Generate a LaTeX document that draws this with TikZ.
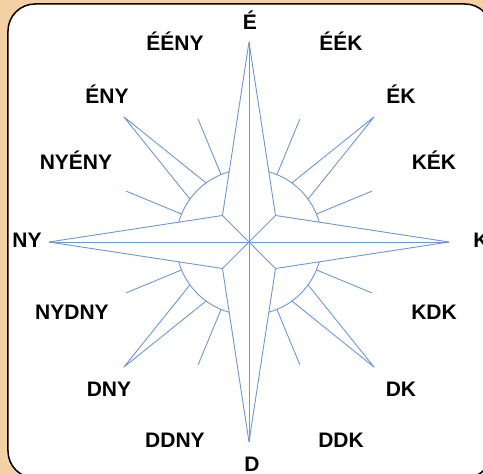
\documentclass[tikz,border=0pt]{standalone}
\usepackage{fontspec}
\setmainfont{Liberation Sans}
\definecolor{roseline}{RGB}{112,152,208}
\definecolor{framebg}{RGB}{243,209,165}

\begin{document}
\begin{tikzpicture}[x=1pt,y=1pt,
  rose/.style={draw=roseline,line width=0.9pt,line join=round},
  irany/.style={font=\fontsize{21}{24}\selectfont\bfseries,inner sep=0pt}]
\clip (-249,-232) rectangle (234,242);
\fill[framebg] (-249,-232) rectangle (234,242);
\draw[fill=white,line width=1.5pt,rounded corners=27pt] (-241,238) rectangle (243,-236);
% main star
\foreach \a in {0,90,180,270}{
  \draw[rose] (0,0) -- (\a:200);
  \draw[rose] (0,0) -- (\a+45:37.5);
  \draw[rose] (\a-45:37.5) -- (\a:200) -- (\a+45:37.5);
}
% arcs, side spikes and short rays
\foreach \a in {45,135,225,315}{
  \draw[rose] (\a+29.2:73) arc[start angle=\a+29.2,end angle=\a-29.2,radius=73];
  \draw[rose] (\a+9:73) -- (\a:177) -- (\a-9:73);
  \draw[rose] (\a+22.5:73) -- (\a+22.5:133);
  \draw[rose] (\a-22.5:73) -- (\a-22.5:133);
}
% labels
\foreach \x/\y/\t/\n in {1/222/É/e, -74/201/ÉÉNY/eeny, 92/201/ÉÉK/eek,
    -142/148/ÉNY/eny, 152/148/ÉK/ek, -173/82/NYÉNY/nyeny, 185/82/KÉK/kek,
    -222/2/NY/ny, 232/2/K/k, -177/-70/NYDNY/nydny, 185/-70/KDK/kdk,
    -140/-147/DNY/dny, 152/-147/DK/dk, -74/-198/DDNY/ddny, 92/-198/DDK/ddk,
    3/-222/D/d}
  \node[irany] (\n) at (\x,\y) {\t};
\end{tikzpicture}
\end{document}
